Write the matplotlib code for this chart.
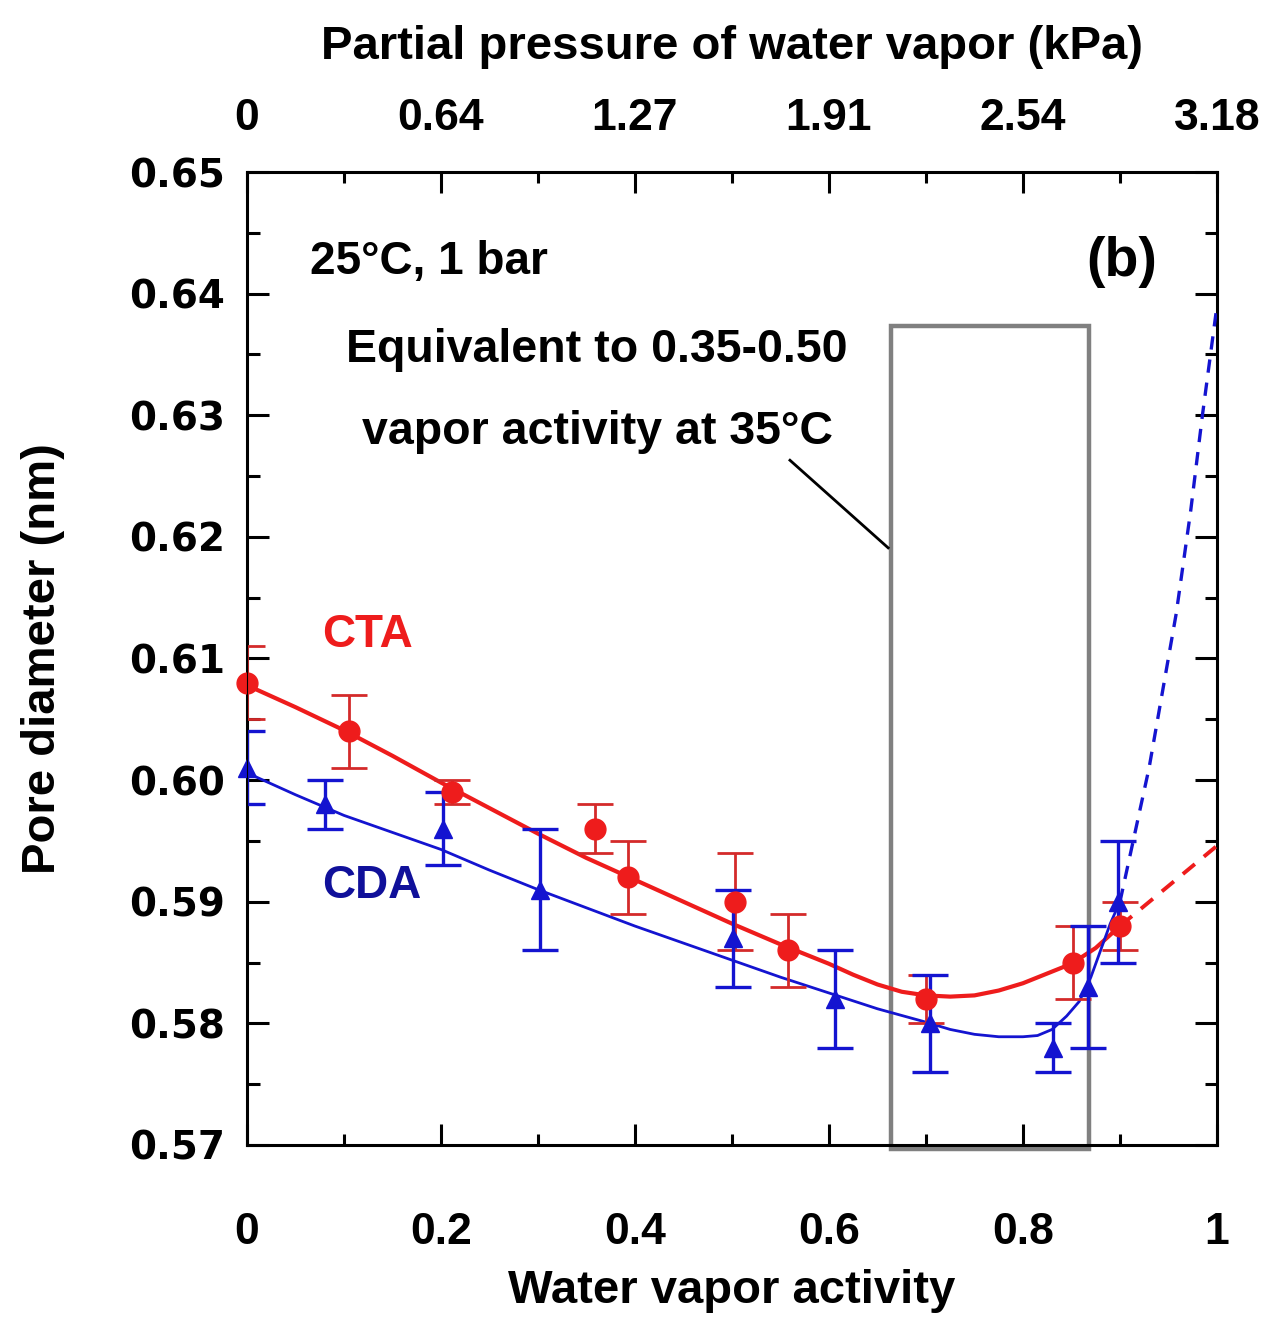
import matplotlib
matplotlib.use("Agg")
import matplotlib.pyplot as plt
from matplotlib.patches import Rectangle
from matplotlib.ticker import MultipleLocator

# ---- measured data -------------------------------------------------------
cta_x = [0.0, 0.105, 0.211, 0.359, 0.393, 0.503, 0.558, 0.700, 0.852, 0.900]
cta_y = [0.608, 0.604, 0.599, 0.596, 0.592, 0.590, 0.586, 0.582, 0.585, 0.588]
cta_err = [0.003, 0.003, 0.001, 0.002, 0.003, 0.004, 0.003, 0.002, 0.003, 0.002]

cda_x = [0.0, 0.080, 0.202, 0.302, 0.501, 0.606, 0.704, 0.831, 0.867, 0.898]
cda_y = [0.601, 0.598, 0.596, 0.591, 0.587, 0.582, 0.580, 0.578, 0.583, 0.590]
cda_err = [0.003, 0.002, 0.003, 0.005, 0.004, 0.004, 0.004, 0.002, 0.005, 0.005]

# ---- fitted trend lines (solid) and extrapolations (dashed) ---------------
cta_fit_x = [0.0, 0.05, 0.10, 0.15, 0.20, 0.25, 0.30, 0.35, 0.40, 0.45, 0.50,
             0.55, 0.60, 0.625, 0.65, 0.675, 0.70, 0.725, 0.75, 0.775, 0.80,
             0.825, 0.85, 0.875, 0.90]
cta_fit_y = [0.6078, 0.6060, 0.6041, 0.6020, 0.5998, 0.5977, 0.5956, 0.5936,
             0.5918, 0.5900, 0.5882, 0.5865, 0.5849, 0.5840, 0.5832, 0.5826,
             0.5823, 0.5822, 0.5823, 0.5827, 0.5833, 0.5841, 0.5849, 0.5862,
             0.5880]
cta_ext_x = [0.90, 0.95, 1.00]
cta_ext_y = [0.5880, 0.5913, 0.5946]

cda_fit_x = [0.0, 0.05, 0.10, 0.15, 0.20, 0.25, 0.30, 0.35, 0.40, 0.45, 0.50,
             0.55, 0.60, 0.65, 0.70, 0.725, 0.75, 0.775, 0.80, 0.815, 0.83,
             0.845, 0.858, 0.87, 0.88, 0.89, 0.90]
cda_fit_y = [0.6006, 0.5988, 0.5971, 0.5957, 0.5943, 0.5926, 0.5910, 0.5895,
             0.5880, 0.5866, 0.5852, 0.5838, 0.5825, 0.5812, 0.5801, 0.5795,
             0.5791, 0.5789, 0.5789, 0.5790, 0.5795, 0.5806, 0.5818, 0.5838,
             0.5860, 0.5882, 0.5900]
cda_ext_x = [0.90, 0.93, 0.958, 0.973, 0.985, 1.00]
cda_ext_y = [0.5900, 0.6010, 0.6137, 0.6222, 0.6300, 0.6390]

# activity window equivalent to 0.35-0.50 activity at 35 C
window_x = [0.6636, 0.868]
window_top = 0.6373

activity_ticks = [0.0, 0.2, 0.4, 0.6, 0.8, 1.0]
activity_labels = ["0", "0.2", "0.4", "0.6", "0.8", "1"]
pressure_labels = ["0", "0.64", "1.27", "1.91", "2.54", "3.18"]
diameter_ticks = [0.57, 0.58, 0.59, 0.60, 0.61, 0.62, 0.63, 0.64, 0.65]
diameter_labels = ["0.57", "0.58", "0.59", "0.60", "0.61", "0.62", "0.63",
                   "0.64", "0.65"]

RED = "#ee1c1c"
RED_ERR = "#d42a2a"
BLUE = "#1414d0"
BLUE_DARK = "#10109a"
GRAY = "#808080"

SANS = ["Liberation Sans", "DejaVu Sans"]
WIDE = ["DejaVu Sans"]

fig = plt.figure(figsize=(12.69, 13.17), dpi=100)
ax = fig.add_axes([0.1946, 0.1306, 0.7644, 0.7388])
ax.set_xlim(0, 1)
ax.set_ylim(0.57, 0.65)

# window box
ax.add_patch(Rectangle((window_x[0], 0.5697), window_x[1] - window_x[0],
                       window_top - 0.5697, fill=False, edgecolor=GRAY,
                       linewidth=3.2, zorder=2, clip_on=False))
# pointer from the note to the box
ax.plot([0.5598, 0.6610], [0.6263, 0.6191], color="black", lw=2.0, zorder=3)

# trend lines
ax.plot(cta_fit_x, cta_fit_y, color=RED, lw=3.0, zorder=4)
ax.plot(cta_ext_x, cta_ext_y, color=RED, lw=2.8, ls=(0, (4, 3)), zorder=4)
ax.plot(cda_fit_x, cda_fit_y, color=BLUE, lw=2.0, zorder=4)
ax.plot(cda_ext_x, cda_ext_y, color=BLUE, lw=2.4, ls=(0, (4, 3)), zorder=4)

# error bars
ax.errorbar(cta_x, cta_y, yerr=cta_err, fmt="none", ecolor=RED_ERR,
            elinewidth=2.0, capsize=13, capthick=2.0, zorder=5)
ax.errorbar(cda_x, cda_y, yerr=cda_err, fmt="none", ecolor=BLUE,
            elinewidth=2.4, capsize=13, capthick=2.4, zorder=5)

# markers
ax.plot(cta_x, cta_y, "o", color=RED, ms=15, mec=RED, zorder=6, clip_on=False)
ax.plot(cda_x, cda_y, "^", color=BLUE, ms=13, mec=BLUE, zorder=6, clip_on=False)

# axes styling
for sp in ax.spines.values():
    sp.set_linewidth(2.2)
ax.set_xticks(activity_ticks)
ax.set_xticklabels(activity_labels, fontfamily=SANS, fontweight="bold",
                   fontsize=32)
ax.xaxis.set_minor_locator(MultipleLocator(0.1))
ax.set_yticks(diameter_ticks)
ax.set_yticklabels(diameter_labels, fontfamily=WIDE, fontweight="bold",
                   fontsize=28)
ax.yaxis.set_minor_locator(MultipleLocator(0.005))
ax.tick_params(axis="x", which="major", direction="in", length=15, width=2.2,
               pad=48, top=False)
ax.tick_params(axis="x", which="minor", direction="in", length=8, width=2.2,
               top=False)
ax.tick_params(axis="y", which="major", direction="in", length=16, width=2.2,
               pad=16, right=True)
ax.tick_params(axis="y", which="minor", direction="in", length=9, width=2.2,
               right=True)

ax.set_xlabel("Water vapor activity", fontfamily=SANS, fontweight="bold",
              fontsize=34, labelpad=12)
ax.set_ylabel("Pore diameter (nm)", fontfamily=SANS, fontweight="bold",
              fontsize=34, labelpad=46)

# top axis: partial pressure of water vapour
top = ax.twiny()
top.set_xlim(0, 1)
top.set_xticks(activity_ticks)
top.set_xticklabels(pressure_labels, fontfamily=SANS, fontweight="bold",
                    fontsize=32)
top.xaxis.set_minor_locator(MultipleLocator(0.1))
top.tick_params(axis="x", which="major", direction="in", length=15, width=2.2,
                pad=24)
top.tick_params(axis="x", which="minor", direction="in", length=8, width=2.2)
top.set_xlabel("Partial pressure of water vapor (kPa)", fontfamily=SANS,
               fontweight="bold", fontsize=34, labelpad=28)

# annotations
ax.text(0.065, 0.6426, "25°C, 1 bar", fontfamily=SANS, fontweight="bold",
        fontsize=33, ha="left", va="center")
ax.text(0.902, 0.6426, "(b)", fontfamily=SANS, fontweight="bold",
        fontsize=40, ha="center", va="center")
ax.text(0.361, 0.6354, "Equivalent to 0.35-0.50", fontfamily=SANS,
        fontweight="bold", fontsize=33.5, ha="center", va="center")
ax.text(0.361, 0.6286, "vapor activity at 35°C", fontfamily=SANS,
        fontweight="bold", fontsize=33.5, ha="center", va="center")
ax.text(0.1247, 0.6119, "CTA", color=RED, fontfamily=SANS, fontweight="bold",
        fontsize=33, ha="center", va="center")
ax.text(0.129, 0.5913, "CDA", color=BLUE_DARK, fontfamily=SANS,
        fontweight="bold", fontsize=33, ha="center", va="center")

fig.savefig("out.png", dpi=100)
